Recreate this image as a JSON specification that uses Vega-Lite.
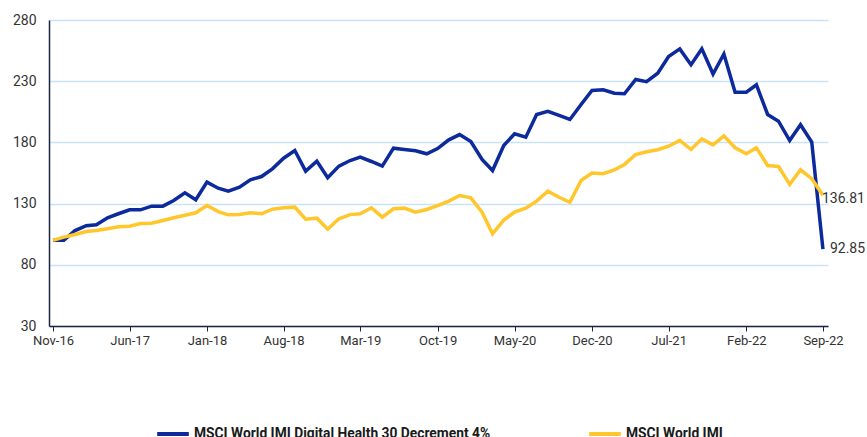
{
  "$schema": "https://vega.github.io/schema/vega-lite/v6.json",
  "autosize": {"type": "none"},
  "padding": {"left": 49, "top": 20, "right": 39, "bottom": 111},
  "width": 779,
  "height": 306,
  "background": "white",
  "config": {
    "font": "Roboto",
    "view": {"stroke": null}
  },
  "data": {
    "values": [
      {"date": "2016-11-01", "MSCI World IMI Digital Health 30 Decrement 4%": 100, "MSCI World IMI": 100},
      {"date": "2016-12-01", "MSCI World IMI Digital Health 30 Decrement 4%": 100, "MSCI World IMI": 102.6},
      {"date": "2017-01-01", "MSCI World IMI Digital Health 30 Decrement 4%": 108, "MSCI World IMI": 104.8},
      {"date": "2017-02-01", "MSCI World IMI Digital Health 30 Decrement 4%": 112, "MSCI World IMI": 107.2},
      {"date": "2017-03-01", "MSCI World IMI Digital Health 30 Decrement 4%": 112.7, "MSCI World IMI": 108.0},
      {"date": "2017-04-01", "MSCI World IMI Digital Health 30 Decrement 4%": 118.4, "MSCI World IMI": 109.4},
      {"date": "2017-05-01", "MSCI World IMI Digital Health 30 Decrement 4%": 121.7, "MSCI World IMI": 111.0},
      {"date": "2017-06-01", "MSCI World IMI Digital Health 30 Decrement 4%": 124.9, "MSCI World IMI": 111.5},
      {"date": "2017-07-01", "MSCI World IMI Digital Health 30 Decrement 4%": 124.9, "MSCI World IMI": 113.7},
      {"date": "2017-08-01", "MSCI World IMI Digital Health 30 Decrement 4%": 127.9, "MSCI World IMI": 114.0},
      {"date": "2017-09-01", "MSCI World IMI Digital Health 30 Decrement 4%": 127.9, "MSCI World IMI": 116.2},
      {"date": "2017-10-01", "MSCI World IMI Digital Health 30 Decrement 4%": 132.5, "MSCI World IMI": 118.4},
      {"date": "2017-11-01", "MSCI World IMI Digital Health 30 Decrement 4%": 138.8, "MSCI World IMI": 120.5},
      {"date": "2017-12-01", "MSCI World IMI Digital Health 30 Decrement 4%": 133.1, "MSCI World IMI": 122.5},
      {"date": "2018-01-01", "MSCI World IMI Digital Health 30 Decrement 4%": 147.5, "MSCI World IMI": 128.4},
      {"date": "2018-02-01", "MSCI World IMI Digital Health 30 Decrement 4%": 142.6, "MSCI World IMI": 123.5},
      {"date": "2018-03-01", "MSCI World IMI Digital Health 30 Decrement 4%": 140.1, "MSCI World IMI": 120.8},
      {"date": "2018-04-01", "MSCI World IMI Digital Health 30 Decrement 4%": 143.4, "MSCI World IMI": 121.1},
      {"date": "2018-05-01", "MSCI World IMI Digital Health 30 Decrement 4%": 149.4, "MSCI World IMI": 122.5},
      {"date": "2018-06-01", "MSCI World IMI Digital Health 30 Decrement 4%": 152.1, "MSCI World IMI": 121.7},
      {"date": "2018-07-01", "MSCI World IMI Digital Health 30 Decrement 4%": 158.4, "MSCI World IMI": 125.4},
      {"date": "2018-08-01", "MSCI World IMI Digital Health 30 Decrement 4%": 167.1, "MSCI World IMI": 126.6},
      {"date": "2018-09-01", "MSCI World IMI Digital Health 30 Decrement 4%": 173.4, "MSCI World IMI": 127.1},
      {"date": "2018-10-01", "MSCI World IMI Digital Health 30 Decrement 4%": 156.5, "MSCI World IMI": 117.3},
      {"date": "2018-11-01", "MSCI World IMI Digital Health 30 Decrement 4%": 164.6, "MSCI World IMI": 118.1},
      {"date": "2018-12-01", "MSCI World IMI Digital Health 30 Decrement 4%": 151.1, "MSCI World IMI": 109.1},
      {"date": "2019-01-01", "MSCI World IMI Digital Health 30 Decrement 4%": 160.6, "MSCI World IMI": 117.6},
      {"date": "2019-02-01", "MSCI World IMI Digital Health 30 Decrement 4%": 165.2, "MSCI World IMI": 121.0},
      {"date": "2019-03-01", "MSCI World IMI Digital Health 30 Decrement 4%": 167.9, "MSCI World IMI": 121.7},
      {"date": "2019-04-01", "MSCI World IMI Digital Health 30 Decrement 4%": 164.4, "MSCI World IMI": 126.6},
      {"date": "2019-05-01", "MSCI World IMI Digital Health 30 Decrement 4%": 160.6, "MSCI World IMI": 118.9},
      {"date": "2019-06-01", "MSCI World IMI Digital Health 30 Decrement 4%": 175.3, "MSCI World IMI": 125.8},
      {"date": "2019-07-01", "MSCI World IMI Digital Health 30 Decrement 4%": 174.2, "MSCI World IMI": 126.3},
      {"date": "2019-08-01", "MSCI World IMI Digital Health 30 Decrement 4%": 173.1, "MSCI World IMI": 123.0},
      {"date": "2019-09-01", "MSCI World IMI Digital Health 30 Decrement 4%": 170.7, "MSCI World IMI": 125.2},
      {"date": "2019-10-01", "MSCI World IMI Digital Health 30 Decrement 4%": 175.0, "MSCI World IMI": 128.4},
      {"date": "2019-11-01", "MSCI World IMI Digital Health 30 Decrement 4%": 182.1, "MSCI World IMI": 132.0},
      {"date": "2019-12-01", "MSCI World IMI Digital Health 30 Decrement 4%": 186.4, "MSCI World IMI": 136.6},
      {"date": "2020-01-01", "MSCI World IMI Digital Health 30 Decrement 4%": 180.7, "MSCI World IMI": 134.7},
      {"date": "2020-02-01", "MSCI World IMI Digital Health 30 Decrement 4%": 166.0, "MSCI World IMI": 123.0},
      {"date": "2020-03-01", "MSCI World IMI Digital Health 30 Decrement 4%": 157.0, "MSCI World IMI": 105.3},
      {"date": "2020-04-01", "MSCI World IMI Digital Health 30 Decrement 4%": 177.5, "MSCI World IMI": 116.5},
      {"date": "2020-05-01", "MSCI World IMI Digital Health 30 Decrement 4%": 187.0, "MSCI World IMI": 123.0},
      {"date": "2020-06-01", "MSCI World IMI Digital Health 30 Decrement 4%": 184.3, "MSCI World IMI": 126.3},
      {"date": "2020-07-01", "MSCI World IMI Digital Health 30 Decrement 4%": 202.8, "MSCI World IMI": 132.0},
      {"date": "2020-08-01", "MSCI World IMI Digital Health 30 Decrement 4%": 205.3, "MSCI World IMI": 140.1},
      {"date": "2020-09-01", "MSCI World IMI Digital Health 30 Decrement 4%": 202.0, "MSCI World IMI": 135.2},
      {"date": "2020-10-01", "MSCI World IMI Digital Health 30 Decrement 4%": 198.7, "MSCI World IMI": 131.1},
      {"date": "2020-11-01", "MSCI World IMI Digital Health 30 Decrement 4%": 211.0, "MSCI World IMI": 148.9},
      {"date": "2020-12-01", "MSCI World IMI Digital Health 30 Decrement 4%": 222.4, "MSCI World IMI": 154.9},
      {"date": "2021-01-01", "MSCI World IMI Digital Health 30 Decrement 4%": 223.0, "MSCI World IMI": 154.4},
      {"date": "2021-02-01", "MSCI World IMI Digital Health 30 Decrement 4%": 220.2, "MSCI World IMI": 157.6},
      {"date": "2021-03-01", "MSCI World IMI Digital Health 30 Decrement 4%": 219.7, "MSCI World IMI": 162.0},
      {"date": "2021-04-01", "MSCI World IMI Digital Health 30 Decrement 4%": 231.4, "MSCI World IMI": 170.1},
      {"date": "2021-05-01", "MSCI World IMI Digital Health 30 Decrement 4%": 229.6, "MSCI World IMI": 172.4},
      {"date": "2021-06-01", "MSCI World IMI Digital Health 30 Decrement 4%": 236.5, "MSCI World IMI": 174.0},
      {"date": "2021-07-01", "MSCI World IMI Digital Health 30 Decrement 4%": 250.2, "MSCI World IMI": 176.9},
      {"date": "2021-08-01", "MSCI World IMI Digital Health 30 Decrement 4%": 256.4, "MSCI World IMI": 181.6},
      {"date": "2021-09-01", "MSCI World IMI Digital Health 30 Decrement 4%": 243.4, "MSCI World IMI": 174.2},
      {"date": "2021-10-01", "MSCI World IMI Digital Health 30 Decrement 4%": 256.4, "MSCI World IMI": 182.9},
      {"date": "2021-11-01", "MSCI World IMI Digital Health 30 Decrement 4%": 235.9, "MSCI World IMI": 178.0},
      {"date": "2021-12-01", "MSCI World IMI Digital Health 30 Decrement 4%": 252.2, "MSCI World IMI": 185.4},
      {"date": "2022-01-01", "MSCI World IMI Digital Health 30 Decrement 4%": 221.0, "MSCI World IMI": 175.6},
      {"date": "2022-02-01", "MSCI World IMI Digital Health 30 Decrement 4%": 221.0, "MSCI World IMI": 170.7},
      {"date": "2022-03-01", "MSCI World IMI Digital Health 30 Decrement 4%": 227.0, "MSCI World IMI": 175.6},
      {"date": "2022-04-01", "MSCI World IMI Digital Health 30 Decrement 4%": 202.8, "MSCI World IMI": 161.1},
      {"date": "2022-05-01", "MSCI World IMI Digital Health 30 Decrement 4%": 197.3, "MSCI World IMI": 160.3},
      {"date": "2022-06-01", "MSCI World IMI Digital Health 30 Decrement 4%": 181.5, "MSCI World IMI": 145.6},
      {"date": "2022-07-01", "MSCI World IMI Digital Health 30 Decrement 4%": 194.4, "MSCI World IMI": 157.6},
      {"date": "2022-08-01", "MSCI World IMI Digital Health 30 Decrement 4%": 180.2, "MSCI World IMI": 150.3},
      {"date": "2022-09-01", "MSCI World IMI Digital Health 30 Decrement 4%": 92.85, "MSCI World IMI": 136.81}
    ]
  },
  "transform": [
    {"fold": ["MSCI World IMI Digital Health 30 Decrement 4%", "MSCI World IMI"], "as": ["series", "value"]}
  ],
  "encoding": {
    "x": {
      "field": "date",
      "type": "temporal",
      "scale": {
        "type": "utc",
        "domain": [
          {"year": 2016, "month": 10, "date": 21, "utc": true},
          {"year": 2022, "month": 9, "date": 15, "utc": true}
        ]
      },
      "axis": {
        "title": null,
        "format": "%b-%y",
        "values": [
          {"year": 2016, "month": 11, "date": 1, "utc": true},
          {"year": 2017, "month": 6, "date": 1, "utc": true},
          {"year": 2018, "month": 1, "date": 1, "utc": true},
          {"year": 2018, "month": 8, "date": 1, "utc": true},
          {"year": 2019, "month": 3, "date": 1, "utc": true},
          {"year": 2019, "month": 10, "date": 1, "utc": true},
          {"year": 2020, "month": 5, "date": 1, "utc": true},
          {"year": 2020, "month": 12, "date": 1, "utc": true},
          {"year": 2021, "month": 7, "date": 1, "utc": true},
          {"year": 2022, "month": 2, "date": 1, "utc": true},
          {"year": 2022, "month": 9, "date": 1, "utc": true}
        ],
        "grid": false,
        "domainColor": "#1c2541",
        "domainWidth": 1.5,
        "tickColor": "#1c2541",
        "tickSize": 5,
        "tickWidth": 1,
        "labelFont": "Roboto",
        "labelFontSize": 13,
        "labelColor": "#333333",
        "labelPadding": 3,
        "labelFlush": false,
        "labelOverlap": false
      }
    },
    "y": {
      "field": "value",
      "type": "quantitative",
      "scale": {"domain": [30, 280], "nice": false, "zero": false},
      "axis": {
        "title": null,
        "values": [30, 80, 130, 180, 230, 280],
        "grid": true,
        "gridColor": "#c9e3f6",
        "gridWidth": 1.5,
        "ticks": false,
        "domainColor": "#1c2541",
        "domainWidth": 1.5,
        "labelFont": "Roboto",
        "labelFontSize": 14,
        "labelColor": "#333333",
        "labelPadding": 13
      }
    }
  },
  "layer": [
    {
      "mark": {"type": "line", "strokeWidth": 3.5, "strokeJoin": "miter", "strokeCap": "butt"},
      "encoding": {
        "color": {
          "field": "series",
          "type": "nominal",
          "sort": null,
          "scale": {
            "domain": ["MSCI World IMI Digital Health 30 Decrement 4%", "MSCI World IMI"],
            "range": ["#0c2a9c", "#ffc72c"]
          },
          "legend": {
            "title": null,
            "orient": "none",
            "direction": "horizontal",
            "legendX": 106,
            "legendY": 396,
            "symbolType": "stroke",
            "symbolSize": 1000,
            "symbolStrokeWidth": 4,
            "labelFont": "Roboto",
            "labelFontSize": 13.8,
            "labelFontWeight": "bold",
            "labelColor": "#1a1a1a",
            "labelOffset": 3,
            "labelLimit": 400,
            "columnPadding": 90
          }
        }
      }
    },
    {
      "transform": [
        {"filter": {"field": "series", "equal": "MSCI World IMI"}},
        {"filter": {"field": "date", "timeUnit": "utcyearmonth", "equal": {"year": 2022, "month": 9, "utc": true}}}
      ],
      "mark": {"type": "text", "align": "left", "baseline": "middle", "dx": -1, "dy": 4, "font": "Roboto", "fontSize": 14, "color": "#333333"},
      "encoding": {"text": {"field": "value", "type": "quantitative", "format": ".2f"}}
    },
    {
      "transform": [
        {"filter": {"field": "series", "equal": "MSCI World IMI Digital Health 30 Decrement 4%"}},
        {"filter": {"field": "date", "timeUnit": "utcyearmonth", "equal": {"year": 2022, "month": 9, "utc": true}}}
      ],
      "mark": {"type": "text", "align": "left", "baseline": "middle", "dx": 7, "dy": 0, "font": "Roboto", "fontSize": 14, "color": "#333333"},
      "encoding": {"text": {"field": "value", "type": "quantitative", "format": ".2f"}}
    }
  ]
}
